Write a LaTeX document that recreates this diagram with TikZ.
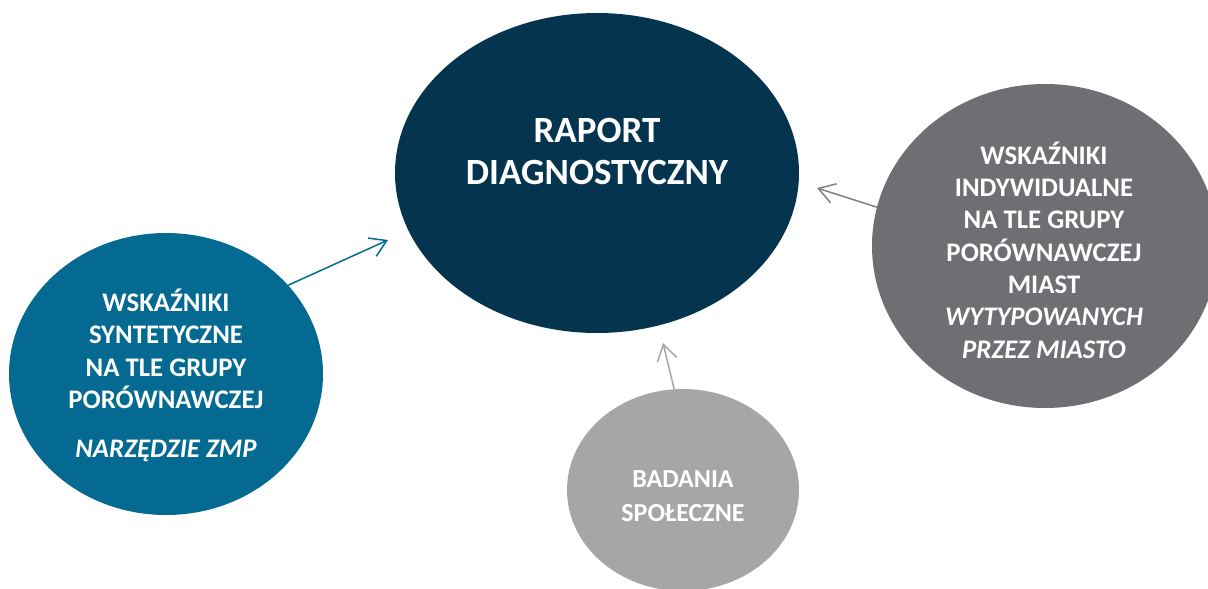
\documentclass[tikz,border=0pt]{standalone}
\usepackage{fontspec}
\setmainfont{Carlito}
\usetikzlibrary{arrows.meta,shapes.geometric}
\definecolor{cnavy}{HTML}{05344F}
\definecolor{cteal}{HTML}{046A92}
\definecolor{cgray}{HTML}{6E6F72}
\definecolor{clight}{HTML}{A6A6A6}
\definecolor{carrowgray}{HTML}{808080}
\begin{document}
\begin{tikzpicture}[x=1pt,y=-1pt,
  blob/.style={ellipse, inner sep=0pt},
  lbl/.style={text=white, align=center, inner sep=0pt},
  conn/.style={line width=1.5pt, -{Straight Barb[length=16pt,width=20pt]}}]
\useasboundingbox (0,0) rectangle (1208,589);
\clip (0,0) rectangle (1208,589);
\node[blob, fill=cnavy, minimum width=404pt, minimum height=320pt] (main) at (597,173) {};
\node[blob, fill=cteal, minimum width=314pt, minimum height=282pt] (left) at (166,374) {};
\node[blob, fill=cgray, minimum width=346pt, minimum height=324pt] (right) at (1045,246) {};
\node[blob, fill=clight, minimum width=232pt, minimum height=202pt] (bottom) at (683,490) {};

\node[lbl, font=\bfseries\fontsize{37}{42}\selectfont] (maintext) at (597,151) {RAPORT\\DIAGNOSTYCZNY};
\node[lbl, font=\bfseries\fontsize{26.8}{32.5}\selectfont] (lefttext) at (166,375)
  {WSKAŹNIKI\\SYNTETYCZNE\\NA TLE GRUPY\\PORÓWNAWCZEJ\\[16pt]\textit{NARZĘDZIE ZMP}};
\node[lbl, font=\bfseries\fontsize{26.8}{32.3}\selectfont] (righttext) at (1044,250)
  {WSKAŹNIKI\\INDYWIDUALNE\\NA TLE GRUPY\\PORÓWNAWCZEJ\\MIAST\\\textit{WYTYPOWANYCH}\\\textit{PRZEZ MIASTO}};
\node[lbl, font=\bfseries\fontsize{26}{34}\selectfont] (bottomtext) at (683,496) {BADANIA\\SPOŁECZNE};

\coordinate (tipL) at (388,240);
\coordinate (tipR) at (817,188);
\coordinate (tipB) at (663,343);
\draw[conn, draw=cteal] (left.36) -- (tipL);
\draw[conn, draw=carrowgray] (right.167) -- (tipR);
\draw[conn, draw=clight] (bottom.95) -- (tipB);
\end{tikzpicture}
\end{document}
